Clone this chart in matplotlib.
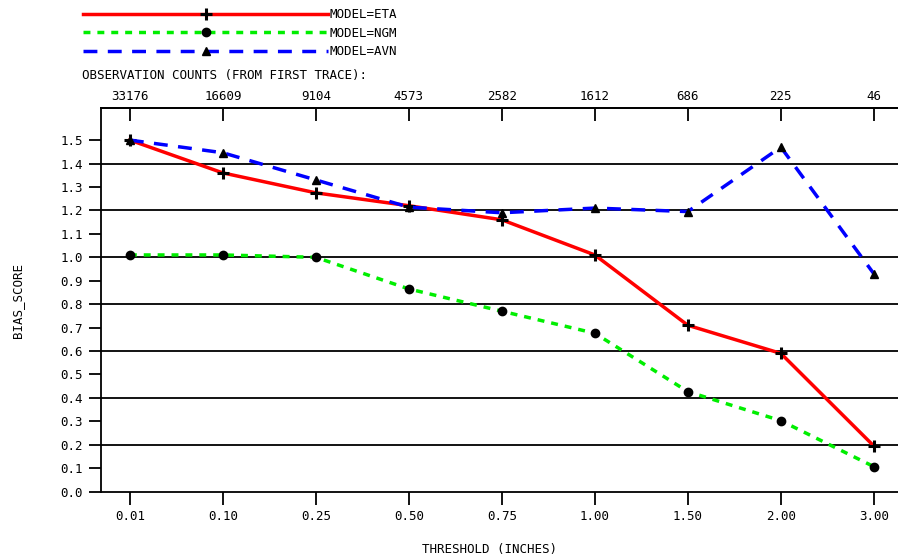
import numpy as np
import matplotlib
matplotlib.use("Agg")
import matplotlib.pyplot as plt

thresholds = ["0.01", "0.10", "0.25", "0.50", "0.75", "1.00", "1.50", "2.00", "3.00"]
obs_counts = ["33176", "16609", "9104", "4573", "2582", "1612", "686", "225", "46"]
eta = [1.50, 1.36, 1.275, 1.22, 1.16, 1.01, 0.71, 0.59, 0.195]
ngm = [1.01, 1.01, 1.00, 0.865, 0.77, 0.676, 0.427, 0.303, 0.107]
avn = [1.50, 1.446, 1.33, 1.214, 1.19, 1.21, 1.195, 1.47, 0.93]

plt.rcParams['font.family'] = ['DejaVu Sans Mono']
fig = plt.figure(figsize=(8.98, 5.59), dpi=100)
ax = fig.add_axes([0.1125, 0.1204, 0.8875, 0.686])
x = np.arange(len(thresholds))

for yv in np.arange(0.2, 1.5, 0.2):
  ax.axhline(yv, color='black', lw=1.3, zorder=1)

l1, = ax.plot(x, eta, color='red', lw=2.5, ls='-', marker='+', ms=8, mew=2.2,
              mec='black', zorder=3, label='MODEL=ETA')
l2, = ax.plot(x, ngm, color='#00ee00', lw=2.5, ls=(0, (2, 2)), marker='o', ms=5,
              mew=2, mec='black', mfc='black', zorder=3, label='MODEL=NGM')
l3, = ax.plot(x, avn, color='blue', lw=2.5, ls=(0, (4, 3)), marker='^', ms=6,
              mec='black', mfc='black', zorder=3, label='MODEL=AVN')

ax.set_xlim(-0.31, 8.26)
ax.set_ylim(0, 1.636)
ax.set_xticks(x)
ax.set_xticklabels(thresholds, fontsize=9)
ax.set_yticks(np.arange(0, 1.51, 0.1))
ax.set_yticklabels(['%.1f' % v for v in np.arange(0, 1.51, 0.1)], fontsize=9)
ax.tick_params(axis='both', direction='out', length=9, width=1.3, pad=4)
ax.spines['right'].set_visible(False)
for s in ['left', 'bottom', 'top']:
  ax.spines[s].set_linewidth(1.3)

top = ax.secondary_xaxis('top')
top.set_xticks(x)
top.set_xticklabels(obs_counts, fontsize=9)
top.tick_params(direction='in', length=9, width=1.3, pad=4)
top.spines['top'].set_linewidth(1.3)

fig.text(82 / 898, 1 - 75 / 559, 'OBSERVATION COUNTS (FROM FIRST TRACE):',
         fontsize=9, va='center', ha='left')
fig.text(490 / 898, 1 - 550 / 559, 'THRESHOLD (INCHES)', fontsize=9,
         ha='center', va='center')
fig.text(18 / 898, 1 - 300 / 559, 'BIAS_SCORE', fontsize=9, rotation=90,
         ha='center', va='center')

fig.legend(handles=[l1, l2, l3], loc='upper left',
           bbox_to_anchor=(83 / 898, 1 - 8 / 559), frameon=False,
           fontsize=9, handlelength=19.6, numpoints=1, labelspacing=0.45,
           handletextpad=0.15, borderpad=0, borderaxespad=0)

fig.savefig('out.png', dpi=100)
